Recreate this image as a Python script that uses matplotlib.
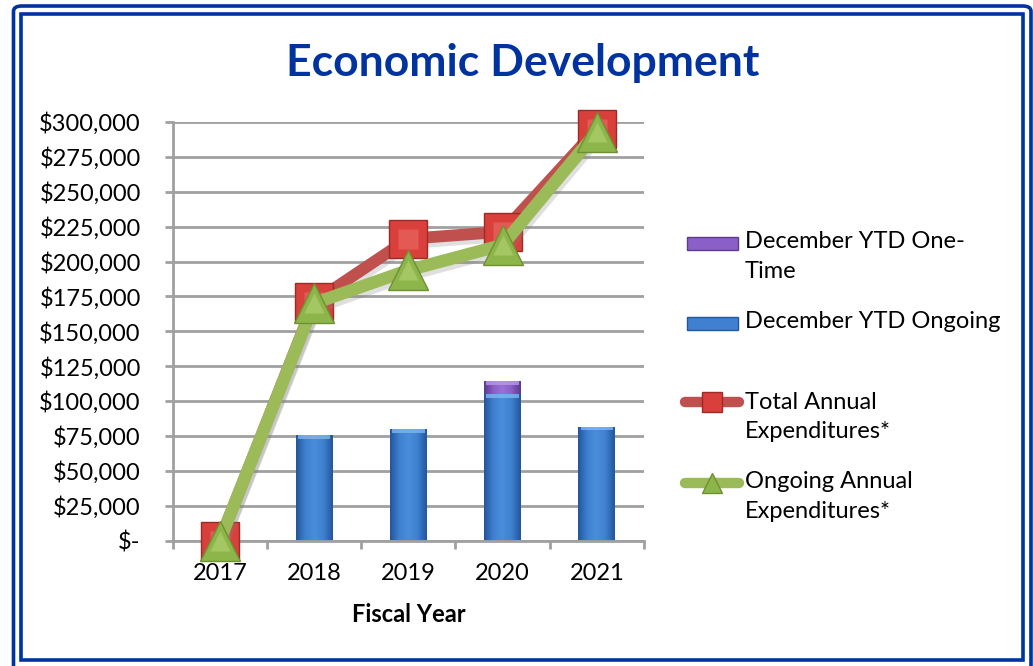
import matplotlib
matplotlib.use("Agg")
import matplotlib.pyplot as plt
import numpy as np
from matplotlib.patches import FancyBboxPatch, Rectangle
from matplotlib.lines import Line2D
from matplotlib.colors import LinearSegmentedColormap
from matplotlib.ticker import FuncFormatter, FixedLocator
import matplotlib.patheffects as pe

# ---- data ----
years = ["2017", "2018", "2019", "2020", "2021"]
ytd_ongoing = [0, 75500, 80000, 105000, 81500]
ytd_one_time = [0, 0, 0, 9000, 0]
total_annual = [0, 171000, 216300, 221300, 295000]
ongoing_annual = [0, 170000, 193800, 211800, 293000]
y_ticks = list(range(0, 300001, 25000))
legend_labels = [
    ["December YTD One-", "Time"],
    ["December YTD Ongoing"],
    ["Total Annual", "Expenditures*"],
    ["Ongoing Annual", "Expenditures*"],
]
title = "Economic Development"
x_title = "Fiscal Year"

plt.rcParams["font.family"] = ["Lato", "DejaVu Sans"]

W, H = 1033, 666
fig = plt.figure(figsize=(W / 100, H / 100), dpi=100)
fig.patch.set_facecolor("white")


def fx(px):
    return px / W


def fy(py):
    return 1 - py / H


# double blue frame
border = "#0033a0"
fig.add_artist(FancyBboxPatch((fx(13.5), fy(672)), fx(1031) - fx(13.5), fy(6) - fy(672),
                              boxstyle="round,pad=0,rounding_size=0.008",
                              transform=fig.transFigure, fill=False,
                              edgecolor=border, linewidth=2.6))
fig.add_artist(Rectangle((fx(21), fy(659.5)), fx(1023.5) - fx(21), fy(13.5) - fy(659.5),
                         transform=fig.transFigure, fill=False,
                         edgecolor=border, linewidth=2.6))

ax_left, ax_right, ax_top, ax_bottom = 172.7, 644, 122, 540.5
ax = fig.add_axes([fx(ax_left), fy(ax_bottom), fx(ax_right) - fx(ax_left), fy(ax_top) - fy(ax_bottom)])
ax.set_facecolor("none")

x = np.arange(len(years))

grid_c = "#a0a0a0"
ax.yaxis.set_major_locator(FixedLocator(y_ticks))
ax.yaxis.set_major_formatter(FuncFormatter(lambda v, p: "$-" if v == 0 else f"${v:,.0f}"))
ax.grid(axis="y", color=grid_c, linewidth=2, zorder=0)
ax.set_axisbelow(True)
for s in ["top", "right"]:
    ax.spines[s].set_visible(False)
for s in ["left", "bottom"]:
    ax.spines[s].set_color(grid_c)
    ax.spines[s].set_linewidth(2)
ax.tick_params(axis="y", length=6, width=2, color=grid_c, pad=17, labelsize=17, labelcolor="black")

ax.set_xticks(x)
ax.set_xticklabels(years)
ax.set_xticks(np.arange(-0.5, len(years), 1.0), minor=True)
ax.tick_params(axis="x", which="major", length=0, pad=16, labelsize=17)
ax.tick_params(axis="x", which="minor", length=6, width=2, color=grid_c)
ax.set_xlabel(x_title, fontsize=17, fontweight="bold", labelpad=14)

# bars with a shaded bevel look
bar_w = 0.39
blue_cmap = LinearSegmentedColormap.from_list("b", ["#23569c", "#3f81d0", "#4a8ddb", "#3f81d0", "#23569c"])
purple_cmap = LinearSegmentedColormap.from_list("p", ["#5c3a8e", "#8a5fc7", "#9a70d6", "#8a5fc7", "#5c3a8e"])
grad = np.linspace(0, 1, 64).reshape(1, -1)


def shaded_bars(bottoms, heights, cmap, top_c):
    bars = ax.bar(x, heights, bar_w, bottom=bottoms, color=cmap(0.5), edgecolor="none", zorder=2)
    for rect in bars:
        h = rect.get_height()
        if h <= 0:
            continue
        x0, y0, w = rect.get_x(), rect.get_y(), rect.get_width()
        im = ax.imshow(grad, cmap=cmap, aspect="auto", extent=(x0, x0 + w, y0, y0 + h),
                       zorder=2.1, interpolation="bicubic")
        im.set_clip_path(rect)
        cap = min(h * 0.3, 2600)
        ax.add_patch(Rectangle((x0 + w * 0.06, y0 + h - cap), w * 0.88, cap,
                               facecolor=top_c, edgecolor="none", alpha=0.8, zorder=2.2))
    return bars


shaded_bars([0] * len(years), ytd_ongoing, blue_cmap, "#7fb6ee")
shaded_bars(ytd_ongoing, ytd_one_time, purple_cmap, "#b89ae6")
ax.set_xlim(-0.5, len(years) - 0.5)
ax.set_ylim(0, 300000)

red, red_dark = "#c0504d", "#9e2a26"
green, green_dark = "#9bbb59", "#6f8f33"
shadow = [pe.SimpleLineShadow(offset=(1.5, -3), shadow_color="#808080", alpha=0.25), pe.Normal()]

ax.plot(x, total_annual, color=red, linewidth=8.5, solid_capstyle="round", zorder=3,
        path_effects=shadow, clip_on=False)
ax.plot(x, total_annual, linestyle="none", marker="s", markersize=27, markerfacecolor="#d9403b",
        markeredgecolor=red_dark, markeredgewidth=1.0, zorder=3.1, clip_on=False)
ax.plot(x, total_annual, linestyle="none", marker="s", markersize=15, markerfacecolor="#e35a55",
        markeredgecolor="none", zorder=3.15, clip_on=False)
ax.plot(x, ongoing_annual, color=green, linewidth=9, solid_capstyle="round", zorder=4,
        path_effects=shadow, clip_on=False)
ax.plot(x, ongoing_annual, linestyle="none", marker="^", markersize=28.5, markerfacecolor="#8db64a",
        markeredgecolor=green_dark, markeredgewidth=1.0, zorder=4.1, clip_on=False)
ax.plot(x, ongoing_annual, linestyle="none", marker="^", markersize=14, markerfacecolor="#a4c764",
        markeredgecolor="none", zorder=4.15, clip_on=False)

# title
fig.text(fx(522.5), fy(76), title, ha="center", va="baseline", fontsize=32,
         fontweight="bold", color="#0033a0")

# legend
text_x = 745
entry_y = [242, 322, 402, 482]
line_gap = 30
for lbl, yy in zip(legend_labels, entry_y):
    for i, line in enumerate(lbl):
        fig.text(fx(text_x), fy(yy + i * line_gap), line, ha="left", va="center", fontsize=17)

fig.add_artist(Rectangle((fx(687), fy(250)), fx(738) - fx(687), fy(237) - fy(250),
                         transform=fig.transFigure, facecolor="#8a5fc7", edgecolor="#5c3a8e", linewidth=1))
fig.add_artist(Rectangle((fx(687), fy(330)), fx(738) - fx(687), fy(317) - fy(330),
                         transform=fig.transFigure, facecolor="#3f81d0", edgecolor="#23569c", linewidth=1))
fig.add_artist(Line2D([fx(685), fx(739)], [fy(402), fy(402)], transform=fig.transFigure,
                      color=red, linewidth=7.5, solid_capstyle="round"))
fig.add_artist(Line2D([fx(712)], [fy(402)], transform=fig.transFigure, marker="s", markersize=14,
                      markerfacecolor="#d9403b", markeredgecolor=red_dark))
fig.add_artist(Line2D([fx(685), fx(739)], [fy(483), fy(483)], transform=fig.transFigure,
                      color=green, linewidth=7.5, solid_capstyle="round"))
fig.add_artist(Line2D([fx(712)], [fy(483)], transform=fig.transFigure, marker="^", markersize=14,
                      markerfacecolor="#8db64a", markeredgecolor=green_dark))

fig.savefig("out.png", dpi=100, facecolor="white")
